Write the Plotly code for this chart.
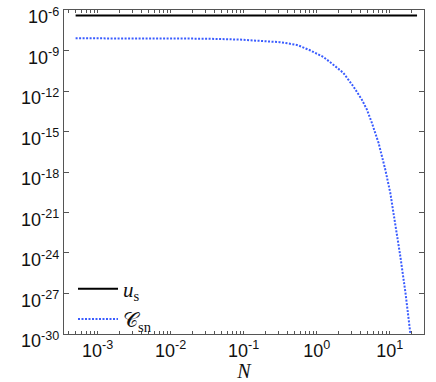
import plotly.graph_objects as go

# u_s : constant level
N_US = [5e-4, 23.7]
U_S = [4e-7, 4e-7]

# C_sn (N, value)
N_CSN = [5e-4, 1e-3, 3e-3, 0.01, 0.03, 0.088, 0.18, 0.31, 0.43, 0.55, 0.81,
         1.23, 1.69, 2.32, 3.18, 4.16, 4.88, 5.71, 7.05, 8.71, 10.2, 11.1,
         14.0, 16.5, 19.2, 23.7]
C_SN = [8.1e-9, 8.1e-9, 8.1e-9, 8.0e-9, 7.6e-9, 6.5e-9, 5.1e-9, 4.2e-9,
        3.2e-9, 2.5e-9, 1.05e-9, 3.4e-10, 9e-11, 2.2e-11, 2.2e-12, 2.3e-13,
        4.2e-14, 4.3e-15, 1.4e-16, 1.5e-18, 2.8e-20, 1.6e-21, 5.5e-25,
        1e-27, 1.05e-30, 2e-36]

X_DECADES = [-3, -2, -1, 0, 1]
Y_DECADES = [-6, -9, -12, -15, -18, -21, -24, -27, -30]

x_tickvals, x_ticktext = [], []
for d in range(-4, 2):
    for m in range(1, 10):
        x_tickvals.append(m * 10.0 ** d)
        x_ticktext.append(f"10<sup>{d}</sup>" if m == 1 and d in X_DECADES else "")

y_tickvals = [10.0 ** d for d in Y_DECADES]
y_ticktext = [f"10<sup>{d}</sup>" for d in Y_DECADES]

fig = go.Figure()
fig.add_trace(go.Scatter(
    x=N_US, y=U_S, mode="lines",
    name="<i>u</i><sub>s</sub>",
    line=dict(color="#000000", width=2),
))
fig.add_trace(go.Scatter(
    x=N_CSN, y=C_SN, mode="lines",
    name="\U0001D49E<sub>sn</sub>",
    line=dict(color="#3a5cff", width=2, dash="2px,1.5px"),
))

axis_common = dict(
    showgrid=False, zeroline=False, showline=True, linecolor="#555555",
    linewidth=1.3, mirror="allticks", ticks="inside", tickcolor="#555555",
    automargin=False, ticklabeloverflow="allow",
    tickfont=dict(family="Liberation Sans", size=18, color="#111111"),
)

fig.update_xaxes(
    type="log", range=[-3.46, 1.47],
    tickmode="array", tickvals=x_tickvals, ticktext=x_ticktext,
    ticklen=3, tickwidth=1,
    title=dict(text="<i>N</i>", font=dict(family="Liberation Serif", size=20, color="#111111"),
               standoff=0),
    **axis_common,
)
fig.update_yaxes(
    type="log", range=[-30.005, -5.995],
    tickmode="array", tickvals=y_tickvals, ticktext=y_ticktext,
    ticklen=5, tickwidth=1, ticklabelshift=7,
    **axis_common,
)

fig.update_layout(
    width=436, height=382,
    margin=dict(l=64, r=12, t=10, b=48),
    paper_bgcolor="#FFFFFF", plot_bgcolor="#FFFFFF",
    showlegend=True,
    legend=dict(
        x=0.025, y=-0.017, xanchor="left", yanchor="bottom",
        bgcolor="rgba(255,255,255,0)", borderwidth=0,
        font=dict(family="Liberation Serif", size=21, color="#111111"),
        tracegroupgap=0, itemwidth=40,
    ),
)

fig.write_html("out.html", config={"displayModeBar": False},
               post_script="document.body.style.margin='0';")
